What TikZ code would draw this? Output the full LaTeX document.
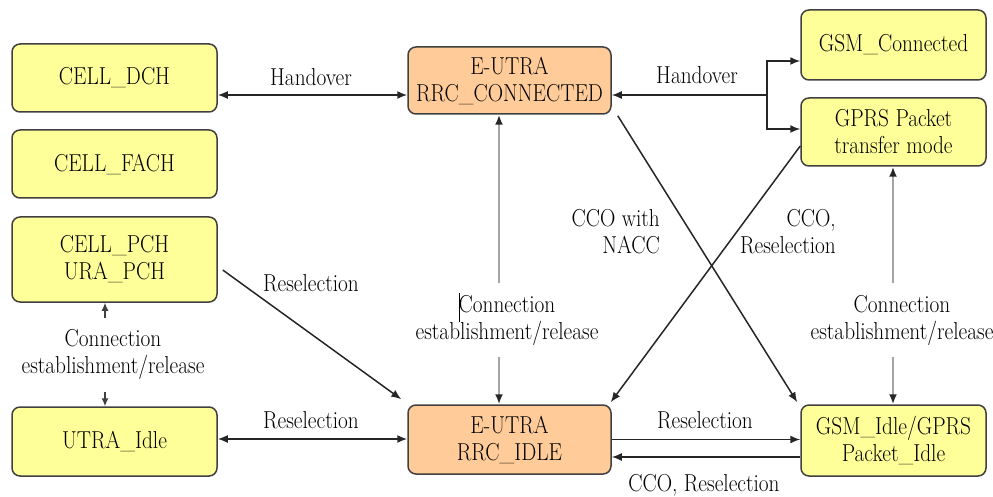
\documentclass[tikz,border=0pt]{standalone}
\usepackage{fontspec}
\usepackage{graphicx}
\usetikzlibrary{arrows.meta}
\definecolor{stateyellow}{RGB}{255,255,153}
\definecolor{stateorange}{RGB}{255,204,153}
\definecolor{relgray}{RGB}{165,165,165}
% slightly condensed serif lines
\newcommand\nar[1]{\scalebox{0.87}[1]{#1}}
\tikzset{
  lbl/.style={font=\fontsize{24.5}{27}\selectfont,
    inner sep=0pt, align=center, text=black},
  statebox/.style={lbl, draw=black!75, line width=1.5pt, rounded corners=8pt,
    fill=stateyellow, minimum width=205pt},
  eutrabox/.style={statebox, fill=stateorange, minimum width=203pt},
  gsmbox/.style={statebox, minimum width=185pt},
  tip/.style={-{Latex[length=10pt,width=8pt]}},
  arr/.style={tip, draw=black!85, line width=1.5pt},
  biarr/.style={{Latex[length=10pt,width=8pt]}-{Latex[length=10pt,width=8pt]}, draw=black!85, line width=1.6pt},
  grayarr/.style={-{Latex[length=10pt,width=8pt,color=black!85]}, draw=relgray, line width=2.4pt},
  smallarr/.style={-{Latex[length=8pt,width=7pt]}, draw=black!75, line width=1.3pt}
}
\begin{document}
\begin{tikzpicture}[x=1pt,y=-1pt]
\useasboundingbox (0,0) rectangle (993,497);

% UTRA states
\node[statebox, minimum height=68pt] (dch)   at (114.5,78)    {\nar{CELL\_DCH}};
\node[statebox, minimum height=68pt] (fach)  at (114.5,164)   {\nar{CELL\_FACH}};
\node[statebox, minimum height=85pt] (pch)   at (114.5,259.5) {\nar{CELL\_PCH}\\\nar{URA\_PCH}};
\node[statebox, minimum height=69pt] (uidle) at (114.5,441.5) {\nar{UTRA\_Idle}};

% E-UTRA states
\node[eutrabox, minimum height=67pt] (econn) at (509.5,80.5)  {\nar{E-UTRA}\\\nar{RRC\_CONNECTED}};
\node[eutrabox, minimum height=69pt] (eidle) at (509.5,439.5) {\nar{E-UTRA}\\\nar{RRC\_IDLE}};

% GSM / GPRS states
\node[gsmbox, minimum height=70pt] (gsmc)  at (893.5,45)    {\nar{GSM\_Connected}};
\node[gsmbox, minimum height=68pt] (gprs)  at (893.5,132)   {\nar{GPRS Packet}\\\nar{transfer mode}};
\node[gsmbox, minimum height=71pt] (gidle) at (893.5,440.5) {\nar{GSM\_Idle/GPRS}\\\nar{Packet\_Idle}};

% labels
\node[lbl] (hoL)  at (311,77)  {\nar{Handover}};
\node[lbl] (hoR)  at (697,75)  {\nar{Handover}};
\node[lbl] (reA)  at (311,283) {\nar{Reselection}};
\node[lbl] (reB)  at (311,420) {\nar{Reselection}};
\node[lbl] (reC)  at (705,420) {\nar{Reselection}};
\node[lbl] (ccoB) at (704,485) {\nar{CCO, Reselection}};
\node[lbl, align=right, anchor=east] (nacc) at (660,231.5) {\nar{CCO with}\\\nar{NACC}};
\node[lbl, align=right, anchor=east] (ccoR) at (836,231.5) {\nar{CCO,}\\\nar{Reselection}};
\node[lbl] (ceL) at (113,354)   {\nar{Connection}\\\nar{establishment/release}};
\node[lbl] (ceM) at (507,320.5) {\nar{Connection}\\\nar{establishment/release}};
\node[lbl] (ceR) at (902,320)   {\nar{Connection}\\\nar{establishment/release}};

% free ends of the split connectors
\coordinate (hb)  at (767,95);
\coordinate (mUp) at (499,283);
\coordinate (mDn) at (499,357);
\coordinate (rUp) at (893,283);
\coordinate (rDn) at (893,357);
\coordinate (lUp) at (105,318);
\coordinate (lDn) at (105,392);

% handovers
\draw[biarr] ([yshift=-17pt]dch.east) -- ([yshift=-17pt]dch.east -| econn.west);
\draw[arr] (hb) -- (hb -| econn.east);
\draw[arr] (hb) |- ([yshift=-16pt]gsmc.west);
\draw[arr] (hb) |- ([yshift=3pt]gprs.west);

% connection establishment / release
\draw[grayarr] (mUp) -- (mUp |- econn.south);
\draw[grayarr] (mDn) -- (mDn |- eidle.north);
\draw[grayarr] (rUp) -- (rUp |- gprs.south);
\draw[grayarr] (rDn) -- (rDn |- gidle.north);
\draw[smallarr] (lUp) -- (lUp |- pch.south);
\draw[smallarr] (lDn) -- (lDn |- uidle.north);
\draw[line width=1pt] ([xshift=-48pt,yshift=27.5pt]ceM.center) -- ([xshift=-48pt,yshift=-1.5pt]ceM.center);

% reselections
\draw[arr] ([xshift=5pt,yshift=-10.5pt]pch.east) -- ([xshift=-6pt,yshift=5pt]eidle.north west);
\draw[biarr] ([yshift=2.5pt]uidle.east) -- ([yshift=2.5pt]uidle.east -| eidle.west);
\draw[arr] (eidle.east) -- (eidle.east -| gidle.west);
\draw[arr] ([yshift=-16.5pt]gidle.west) -- ([yshift=-16.5pt]gidle.west -| eidle.east);

% cell change order crossings
\draw[arr] ([xshift=6pt,yshift=-1pt]econn.south east) -- ([xshift=-3pt,yshift=2pt]gidle.north west);
\draw[arr] ([yshift=-14pt]gprs.west) -- ([xshift=-1pt,yshift=2pt]eidle.north east);
\end{tikzpicture}
\end{document}
